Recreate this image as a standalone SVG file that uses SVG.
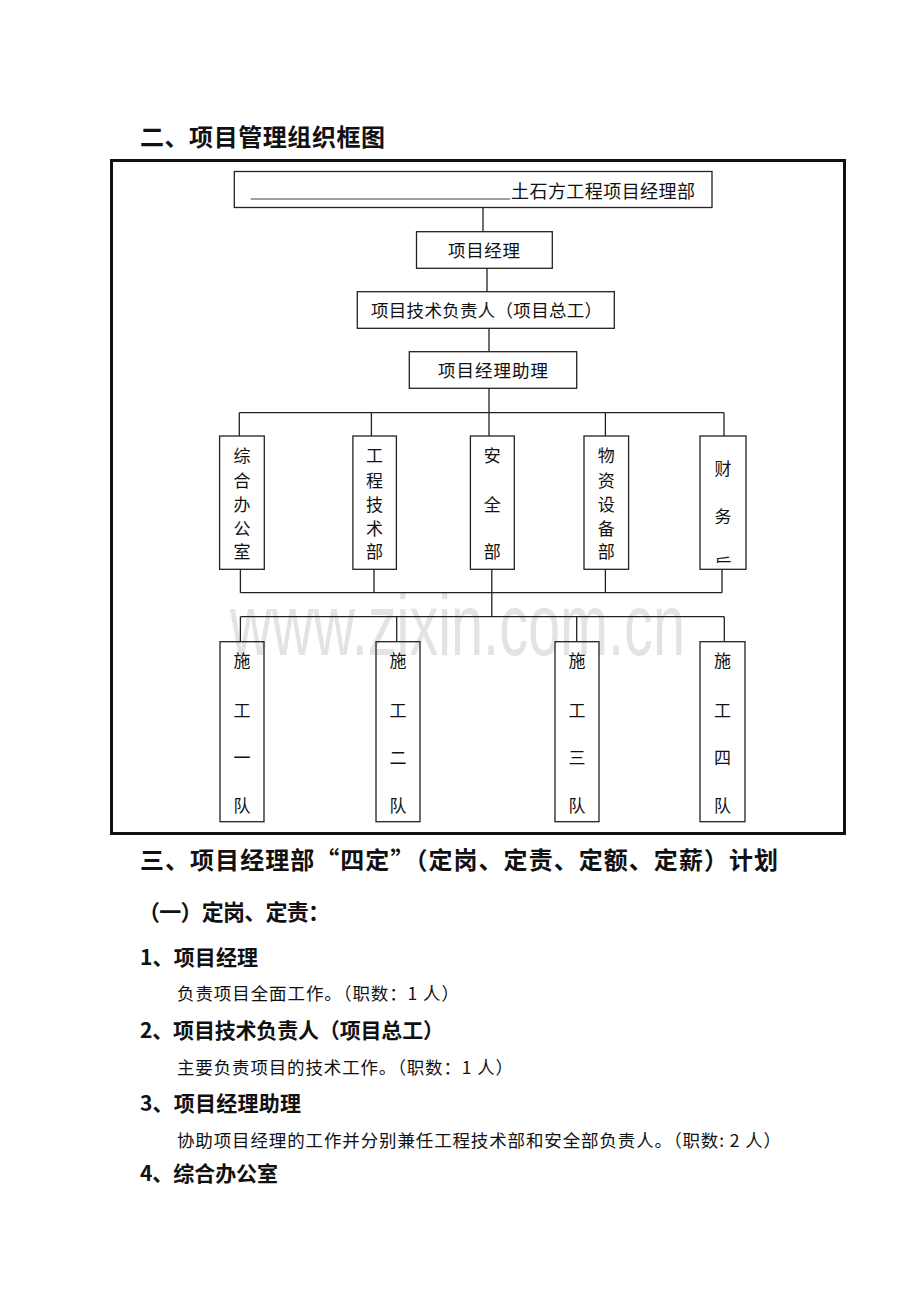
<svg xmlns="http://www.w3.org/2000/svg" width="920" height="1302" viewBox="0 0 920 1302">
<style>
.h{font-family:"Noto Sans CJK SC","Liberation Sans",sans-serif;font-weight:bold;fill:#111}
.t{font-family:"Noto Sans CJK SC","Liberation Serif",serif;fill:#111}
.box{fill:none;stroke:#222;stroke-width:1.3}
.ln{fill:none;stroke:#222;stroke-width:1.3}
.v{font-family:"Noto Sans CJK SC",sans-serif;font-size:17px;fill:#111;text-anchor:middle}
</style>
<defs>
<clipPath id="cw"><rect x="700" y="436" width="46" height="127"/></clipPath>
</defs>
<rect width="920" height="1302" fill="#fff"/>

<text class="h" x="140" y="146" font-size="24" textLength="245">二、项目管理组织框图</text>

<rect x="111.5" y="160.5" width="733" height="673" fill="none" stroke="#111" stroke-width="3"/>

<text x="230" y="655" font-family="Liberation Sans, Arial, sans-serif" font-size="87" fill="#e3e3e3" textLength="455" lengthAdjust="spacingAndGlyphs">www.zixin.com.cn</text>

<g id="connectors">
<path class="ln" d="M483 207.5V231.7 M487 268.3V291.7 M489 328.3V351.7 M489 388.3V412.7"/>
<path class="ln" d="M239.3 412.7H724 M239.3 412.7V436 M371.4 412.7V436 M489 412.7V436 M605.4 412.7V436 M724 412.7V436"/>
<path class="ln" d="M240.4 569.3V592.7 M374 569.3V592.7 M491.8 569.3V592.7 M605.4 569.3V592.7 M722 569.3V592.7 M240.4 592.7H722"/>
<path class="ln" d="M491.8 592.7V616.7 M240.4 616.7H724.3 M240.4 616.7V641.7 M396.7 616.7V641.7 M576.7 616.7V641.7 M724.3 616.7V641.7"/>
</g>

<g id="n-top">
<rect class="box" x="234.3" y="171.5" width="477.7" height="36"/>
<line x1="250.7" y1="199" x2="510" y2="199" stroke="#808080" stroke-width="1.5"/>
<text class="t" x="511" y="198" font-size="18" textLength="184">土石方工程项目经理部</text>
</g>
<g id="n-pm">
<rect class="box" x="416.5" y="231.7" width="135.8" height="36.6"/>
<text class="t" x="448" y="256.5" font-size="17.5" textLength="72">项目经理</text>
</g>
<g id="n-tech">
<rect class="box" x="357.3" y="291.7" width="257" height="36.6"/>
<text class="t" x="371" y="316.5" font-size="17.5" textLength="231">项目技术负责人（项目总工）</text>
</g>
<g id="n-asst">
<rect class="box" x="409.3" y="351.7" width="167.4" height="36.6"/>
<text class="t" x="438" y="377" font-size="17.5" textLength="110">项目经理助理</text>
</g>

<g id="n-office">
<rect class="box" x="219.6" y="436" width="44.7" height="133.3"/>
<text class="v"><tspan x="242" y="461.5">综</tspan><tspan x="242" y="486.5">合</tspan><tspan x="242" y="511">办</tspan><tspan x="242" y="535">公</tspan><tspan x="242" y="558">室</tspan></text>
</g>
<g id="n-eng">
<rect class="box" x="352.9" y="436" width="43.5" height="133.3"/>
<text class="v"><tspan x="374.6" y="461.5">工</tspan><tspan x="374.6" y="486.5">程</tspan><tspan x="374.6" y="511">技</tspan><tspan x="374.6" y="535">术</tspan><tspan x="374.6" y="558">部</tspan></text>
</g>
<g id="n-safety">
<rect class="box" x="470.4" y="436" width="43.9" height="133.3"/>
<text class="v"><tspan x="492.3" y="461.5">安</tspan><tspan x="492.3" y="511">全</tspan><tspan x="492.3" y="558">部</tspan></text>
</g>
<g id="n-material">
<rect class="box" x="584" y="436" width="44.6" height="133.3"/>
<text class="v"><tspan x="606.3" y="461.5">物</tspan><tspan x="606.3" y="486.5">资</tspan><tspan x="606.3" y="511">设</tspan><tspan x="606.3" y="535">备</tspan><tspan x="606.3" y="558">部</tspan></text>
</g>
<g id="n-finance">
<rect class="box" x="700" y="436" width="46" height="133.3"/>
<text class="v" clip-path="url(#cw)"><tspan x="723" y="474.5">财</tspan><tspan x="723" y="522.5">务</tspan><tspan x="723" y="570.5">后</tspan></text>
</g>

<g id="n-team1">
<rect class="box" x="220" y="641.7" width="44" height="180"/>
<text class="v"><tspan x="242" y="667">施</tspan><tspan x="242" y="717">工</tspan><tspan x="242" y="763.5">一</tspan><tspan x="242" y="812">队</tspan></text>
</g>
<g id="n-team2">
<rect class="box" x="376" y="641.7" width="44" height="180"/>
<text class="v"><tspan x="398" y="667">施</tspan><tspan x="398" y="717">工</tspan><tspan x="398" y="763.5">二</tspan><tspan x="398" y="812">队</tspan></text>
</g>
<g id="n-team3">
<rect class="box" x="555" y="641.7" width="44" height="180"/>
<text class="v"><tspan x="577" y="667">施</tspan><tspan x="577" y="717">工</tspan><tspan x="577" y="763.5">三</tspan><tspan x="577" y="812">队</tspan></text>
</g>
<g id="n-team4">
<rect class="box" x="700" y="641.7" width="45" height="180"/>
<text class="v"><tspan x="722.5" y="667">施</tspan><tspan x="722.5" y="717">工</tspan><tspan x="722.5" y="763.5">四</tspan><tspan x="722.5" y="812">队</tspan></text>
</g>

<text class="h" x="140" y="869" font-size="24" textLength="638">三、项目经理部“四定”（定岗、定责、定额、定薪）计划</text>
<text class="h" x="138" y="920" font-size="22" textLength="192">（一）定岗、定责：</text>
<text class="h" x="140" y="965" font-size="21" textLength="118">1、项目经理</text>
<text class="t" x="177" y="999.5" font-size="17.5" textLength="282">负责项目全面工作。（职数：1 人）</text>
<text class="h" x="140" y="1037.5" font-size="21" textLength="304">2、项目技术负责人（项目总工）</text>
<text class="t" x="177" y="1073.5" font-size="17.5" textLength="336">主要负责项目的技术工作。（职数：1 人）</text>
<text class="h" x="140" y="1110.5" font-size="21" textLength="161">3、项目经理助理</text>
<text class="t" x="177" y="1146.5" font-size="17.5" textLength="604">协助项目经理的工作并分别兼任工程技术部和安全部负责人。（职数: 2 人）</text>
<text class="h" x="140" y="1180.5" font-size="21" textLength="138">4、综合办公室</text>
</svg>
